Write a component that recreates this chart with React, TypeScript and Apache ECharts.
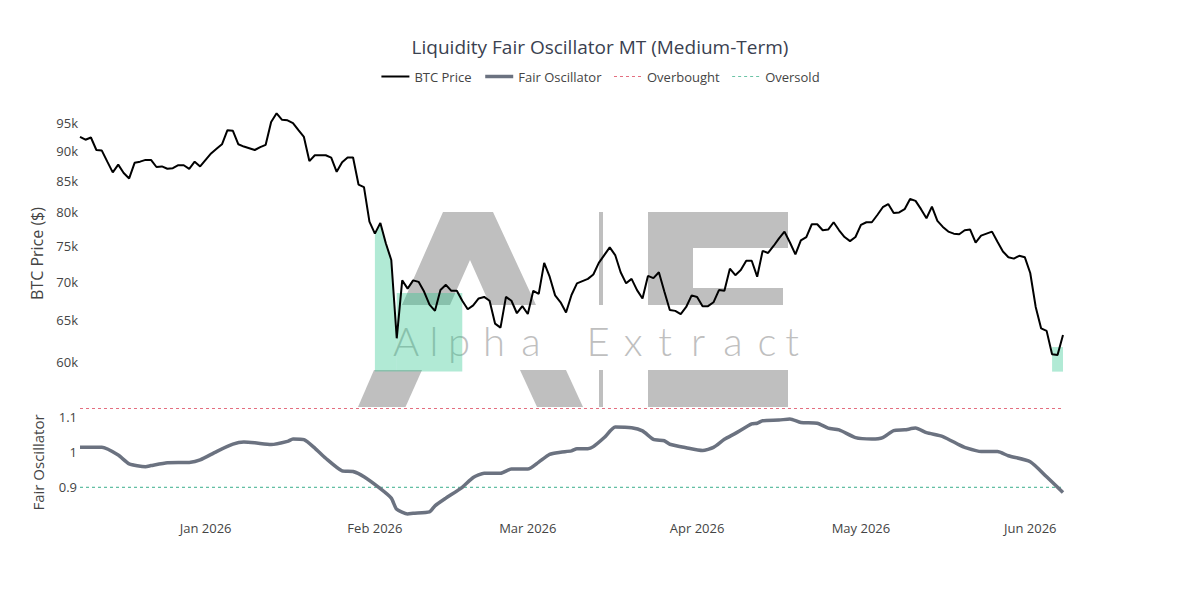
import React, { useEffect, useRef } from 'react';
import * as echarts from 'echarts';

// ---------- data ----------
const START_DATE = '2025-12-09';
const END_DATE = '2026-06-07';

// daily BTC close, starting at START_DATE
const BTC_PRICE = [
  92500, 92000, 92400, 90200, 90100, 88200, 86400, 87700, 86300, 85400,
  88000, 88200, 88500, 88500, 87300, 87400, 87000, 87100, 87600, 87600,
  87000, 88200, 87400, 88500, 89600, 90400, 91200, 93700, 93600, 91200,
  90800, 90500, 90200, 90700, 91100, 95200, 96800, 95600, 95500, 95000,
  93700, 92500, 88300, 89300, 89300, 89300, 88900, 86500, 88100, 88900,
  88900, 84400, 84000, 78600, 76800, 78400, 75400, 73000, 62800, 70200,
  69100, 70200, 70000, 68700, 67000, 66200, 68900, 69600, 68800, 68800,
  67500, 66400, 66900, 67800, 68000, 67500, 64600, 64100, 68000, 67500,
  65900, 66800, 65800, 68800, 68400, 72600, 70700, 68200, 67300, 66000,
  68250, 69800, 70100, 70400, 71000, 72600, 73700, 74800, 73700, 71300,
  69800, 70400, 68900, 67800, 70800, 70500, 71300, 68700, 66300, 66200,
  65800, 66700, 68200, 68000, 66800, 66800, 67300, 68900, 68800, 71800,
  70900, 71600, 72900, 72900, 70700, 74300, 74000, 75000, 76100, 77100,
  75500, 73800, 75800, 76300, 78200, 78200, 77300, 77400, 78500, 77300,
  76300, 75700, 76300, 78100, 78500, 78500, 79600, 80800, 81300, 79900,
  80000, 80500, 82100, 81800, 80500, 79100, 80900, 78700, 77800, 77100,
  76800, 76700, 77300, 77400, 75500, 76500, 76800, 77100, 75600, 74200,
  73400, 73200, 73600, 73400, 71200, 66700, 64000, 63700, 60900, 60800,
  63200,
];

const OSC_DATES = [
  '2025-12-09', '2025-12-13', '2025-12-16', '2025-12-18', '2025-12-21', '2025-12-22',
  '2025-12-25', '2025-12-29', '2025-12-31', '2026-01-03', '2026-01-06', '2026-01-08',
  '2026-01-10', '2026-01-13', '2026-01-16', '2026-01-17', '2026-01-19', '2026-01-21',
  '2026-01-23', '2026-01-26', '2026-01-28', '2026-01-30', '2026-02-02', '2026-02-04',
  '2026-02-05', '2026-02-07', '2026-02-08', '2026-02-11', '2026-02-12', '2026-02-14',
  '2026-02-17', '2026-02-19', '2026-02-21', '2026-02-24', '2026-02-26', '2026-03-01',
  '2026-03-03', '2026-03-05', '2026-03-07', '2026-03-09', '2026-03-10', '2026-03-12',
  '2026-03-13', '2026-03-15', '2026-03-17', '2026-03-20', '2026-03-22', '2026-03-24',
  '2026-03-26', '2026-03-27', '2026-03-30', '2026-04-02', '2026-04-04', '2026-04-06',
  '2026-04-08', '2026-04-11', '2026-04-12', '2026-04-13', '2026-04-16', '2026-04-18',
  '2026-04-20', '2026-04-23', '2026-04-25', '2026-04-27', '2026-04-30', '2026-05-03',
  '2026-05-05', '2026-05-07', '2026-05-09', '2026-05-11', '2026-05-13', '2026-05-16',
  '2026-05-19', '2026-05-20', '2026-05-23', '2026-05-26', '2026-05-28', '2026-06-01',
  '2026-06-04', '2026-06-07',
];
const OSC_VALUES = [
  1.014, 1.014, 0.992, 0.967, 0.959, 0.962,
  0.970, 0.971, 0.978, 1.002, 1.023, 1.029,
  1.027, 1.022, 1.031, 1.038, 1.036, 1.012,
  0.983, 0.947, 0.945, 0.930, 0.896, 0.869,
  0.837, 0.824, 0.826, 0.830, 0.847, 0.869,
  0.900, 0.928, 0.940, 0.940, 0.952, 0.952,
  0.972, 0.994, 1.000, 1.004, 1.010, 1.010,
  1.016, 1.042, 1.072, 1.070, 1.061, 1.037,
  1.033, 1.023, 1.013, 1.005, 1.014, 1.037,
  1.054, 1.081, 1.083, 1.090, 1.092, 1.095,
  1.085, 1.083, 1.069, 1.064, 1.042, 1.038,
  1.042, 1.062, 1.064, 1.069, 1.056, 1.045,
  1.021, 1.014, 1.002, 1.002, 0.990, 0.973,
  0.930, 0.885,
];

const OVERBOUGHT = 1.125;
const OVERSOLD = 0.9;

const PRICE_TICKS = [60000, 65000, 70000, 75000, 80000, 85000, 90000, 95000];
const OSC_TICKS = [0.9, 1, 1.1];

// oversold shading on the price panel
const ZONE_FLOOR = 58900;
const UNDER_PRICE_ZONE = ['2026-02-01', '2026-02-05'];
const BOX_ZONE_START = ['2026-02-05', '2026-06-05'];
const BOX_ZONE_END = ['2026-02-17', '2026-06-07'];
const BOX_ZONE_TOP = [68500, 61750];

const WATERMARK_TEXT = 'AlphaExtract';

// ---------- helpers ----------
const DAY = 86400000;
const ts = (s: string) => Date.parse(s + 'T00:00:00Z');
const MONTHS = ['Jan', 'Feb', 'Mar', 'Apr', 'May', 'Jun', 'Jul', 'Aug', 'Sep', 'Oct', 'Nov', 'Dec'];

const T0 = ts(START_DATE);
const T1 = ts(END_DATE);
const priceData = BTC_PRICE.map((v, i) => [T0 + i * DAY, v]);
const oscData = OSC_DATES.map((d, i) => [ts(d), OSC_VALUES[i]]);
const fillData = priceData.filter(
  (p) => p[0] >= ts(UNDER_PRICE_ZONE[0]) && p[0] <= ts(UNDER_PRICE_ZONE[1])
);

const GREEN = 'rgba(38,198,138,0.36)';
const WM = '#bfbfbf';
const FONT = "'Open Sans', 'DejaVu Sans', sans-serif";
const INK = '#444';
const OSC_COLOR = '#6b7280';
const OB_COLOR = '#e46f80';
const OS_COLOR = '#3aae8c';

// watermark geometry (pixels)
const letterX = [406, 434, 459, 494, 531, 598, 633, 665, 698, 733, 767, 792];

function buildWatermark() {
  const els: any[] = [
    { type: 'polygon', z: -10, shape: { points: [[443, 212], [493, 212], [536, 305], [490, 305], [470, 260], [450, 305], [402, 305]] }, style: { fill: WM } },
    { type: 'polygon', z: -10, shape: { points: [[374, 370], [422, 370], [405.5, 407], [358, 407]] }, style: { fill: WM } },
    { type: 'polygon', z: -10, shape: { points: [[520, 370], [566, 370], [583, 407], [537, 407]] }, style: { fill: WM } },
    { type: 'rect', z: -10, shape: { x: 599, y: 212, width: 4, height: 93 }, style: { fill: WM } },
    { type: 'rect', z: -10, shape: { x: 599, y: 370, width: 4, height: 37 }, style: { fill: WM } },
    { type: 'rect', z: -10, shape: { x: 648, y: 212, width: 140, height: 36 }, style: { fill: WM } },
    { type: 'rect', z: -10, shape: { x: 648, y: 212, width: 45, height: 93 }, style: { fill: WM } },
    { type: 'rect', z: -10, shape: { x: 648, y: 288, width: 135, height: 17 }, style: { fill: WM } },
    { type: 'rect', z: -10, shape: { x: 648, y: 370, width: 140, height: 37 }, style: { fill: WM } },
  ];
  WATERMARK_TEXT.split('').forEach((ch, i) => {
    els.push({
      type: 'text',
      z: -9,
      x: letterX[i],
      y: 341,
      style: {
        text: ch,
        fill: WM,
        fontSize: 40,
        fontWeight: 300,
        fontFamily: "Lato, 'Open Sans', sans-serif",
        textAlign: 'center',
        textVerticalAlign: 'middle',
      },
    });
  });
  return els;
}

export default function App() {
  const ref = useRef<HTMLDivElement>(null);
  useEffect(() => {
    document.body.style.margin = '0';
    const chart = echarts.init(ref.current!, null, { renderer: 'svg' });
    const option: any = {
      animation: false,
      useUTC: true,
      backgroundColor: '#fff',
      textStyle: { fontFamily: FONT },
      title: {
        text: 'Liquidity Fair Oscillator MT (Medium-Term)',
        left: 'center',
        top: 32,
        textStyle: { fontSize: 19, fontWeight: 'normal', color: '#3a4150', fontFamily: FONT },
      },
      legend: {
        top: 65,
        left: 'center',
        itemWidth: 28,
        itemHeight: 14,
        itemGap: 12,
        itemStyle: { opacity: 0 },
        textStyle: { fontSize: 13, color: INK, fontFamily: FONT },
        data: [
          { name: 'BTC Price', lineStyle: { width: 2, color: '#000' } },
          { name: 'Fair Oscillator', lineStyle: { width: 3.5, color: OSC_COLOR } },
          { name: 'Overbought', lineStyle: { width: 1, color: OB_COLOR, type: [3, 3] } },
          { name: 'Oversold', lineStyle: { width: 1, color: '#6cc4a6', type: [3, 3] } },
        ],
      },
      graphic: buildWatermark(),
      grid: [
        { left: 80, right: 137, top: 100, height: 307 },
        { left: 80, right: 137, top: 405, height: 115 },
      ],
      xAxis: [
        {
          type: 'time', gridIndex: 0, min: T0, max: T1,
          axisLine: { show: false }, axisTick: { show: false }, axisLabel: { show: false },
          splitLine: { show: false },
        },
        {
          type: 'time', gridIndex: 1, min: T0, max: T1,
          splitNumber: 6,
          axisLine: { show: false }, axisTick: { show: false }, splitLine: { show: false },
          axisLabel: {
            margin: 1,
            fontSize: 13,
            color: INK,
            fontFamily: FONT,
            hideOverlap: false,
            formatter: (v: number) => {
              const d = new Date(v);
              if (d.getUTCDate() !== 1) return '';
              return MONTHS[d.getUTCMonth()] + ' ' + d.getUTCFullYear();
            },
          },
        },
      ],
      yAxis: [
        {
          type: 'log', gridIndex: 0, logBase: 10, min: 55026, max: 99305,
          name: 'BTC Price ($)', nameLocation: 'middle', nameGap: 34,
          nameTextStyle: { fontSize: 16, color: INK, fontFamily: FONT },
          axisLine: { show: false }, axisTick: { show: false }, splitLine: { show: false },
          axisLabel: {
            customValues: PRICE_TICKS,
            margin: 2,
            fontSize: 13,
            color: INK,
            fontFamily: FONT,
            formatter: (v: number) => Math.round(v / 1000) + 'k',
          },
        },
        {
          type: 'value', gridIndex: 1, min: 0.8066, max: 1.135,
          name: 'Fair Oscillator', nameLocation: 'middle', nameGap: 35,
          nameTextStyle: { fontSize: 15, color: INK, fontFamily: FONT },
          axisLine: { show: false }, axisTick: { show: false }, splitLine: { show: false },
          axisLabel: {
            customValues: OSC_TICKS,
            margin: 3,
            fontSize: 13,
            color: INK,
            fontFamily: FONT,
            formatter: (v: number) => String(Math.round(v * 10) / 10),
          },
        },
      ],
      series: [
        {
          name: 'oversold-zone',
          type: 'line',
          xAxisIndex: 0,
          yAxisIndex: 0,
          data: fillData,
          symbol: 'none',
          silent: true,
          z: 1,
          lineStyle: { width: 0, opacity: 0 },
          areaStyle: { color: GREEN, opacity: 1, origin: ZONE_FLOOR },
          markArea: {
            silent: true,
            itemStyle: { color: GREEN },
            data: BOX_ZONE_START.map((s, i) => [
              { xAxis: ts(s), yAxis: ZONE_FLOOR },
              { xAxis: ts(BOX_ZONE_END[i]), yAxis: BOX_ZONE_TOP[i] },
            ]),
          },
        },
        {
          name: 'BTC Price',
          type: 'line',
          xAxisIndex: 0,
          yAxisIndex: 0,
          data: priceData,
          symbol: 'none',
          showSymbol: false,
          z: 3,
          color: '#000',
          lineStyle: { color: '#000', width: 2 },
        },
        {
          name: 'Fair Oscillator',
          type: 'line',
          xAxisIndex: 1,
          yAxisIndex: 1,
          data: oscData,
          symbol: 'none',
          showSymbol: false,
          smooth: 0.2,
          z: 3,
          color: OSC_COLOR,
          lineStyle: { color: OSC_COLOR, width: 3.5 },
        },
        {
          name: 'Overbought',
          type: 'line',
          xAxisIndex: 1,
          yAxisIndex: 1,
          data: [[T0, OVERBOUGHT], [T1, OVERBOUGHT]],
          symbol: 'none',
          z: 2,
          color: OB_COLOR,
          lineStyle: { color: OB_COLOR, width: 1, type: [3, 3] },
        },
        {
          name: 'Oversold',
          type: 'line',
          xAxisIndex: 1,
          yAxisIndex: 1,
          data: [[T0, OVERSOLD], [T1, OVERSOLD]],
          symbol: 'none',
          z: 2,
          color: OS_COLOR,
          lineStyle: { color: OS_COLOR, width: 1, type: [3, 3] },
        },
      ],
    };
    chart.setOption(option);
    return () => chart.dispose();
  }, []);
  return <div ref={ref} style={{ width: 1200, height: 600 }} />;
}
